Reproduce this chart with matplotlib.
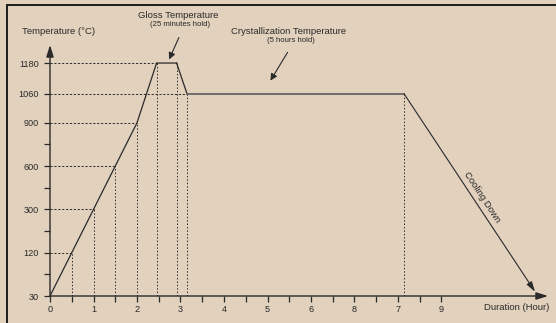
import numpy as np
import matplotlib
matplotlib.use('Agg')
import matplotlib.pyplot as plt
from matplotlib.patches import FancyArrowPatch

# 温度轴刻度（原图不是线性的，等距排列）
temp_levels = [30, 120, 300, 600, 900, 1060, 1180]
temp_pos = [0, 1, 2, 3, 4, 4.67, 5.38]
temp_minor = [75, 210, 450, 750]

# 时间轴刻度位置和标签（照原图原样）
time_ticks = [0, 1, 2, 3, 4, 5, 6, 7, 8, 9]
time_labels = ['0', '1', '2', '3', '4', '5', '6', '8', '7', '9']

# 烧成曲线
curve_t = [0, 0.5, 1, 1.5, 2, 2.45, 2.91, 3.15, 8.14]
curve_T = [30, 120, 300, 600, 900, 1180, 1180, 1060, 1060]
cool_end_t = 11.15
cool_end_T = 39

# 辅助虚线
hguide_T = [120, 300, 600, 900, 1060, 1180]
hguide_t = [0.5, 1, 1.5, 2, 3.15, 2.45]
vguide_t = [0.5, 1, 1.5, 2, 2.47, 2.91, 3.15, 8.14]
vguide_T = [120, 300, 600, 900, 1180, 1180, 1060, 1060]

bg = '#e1d1bd'
ink = '#2a2a2a'
plt.rcParams['font.family'] = ['Liberation Sans', 'DejaVu Sans']

# 温度 -> 位置 的分段线性映射
slope_lo = 1 / 90
slope_hi = (temp_pos[-1] - temp_pos[-2]) / (temp_levels[-1] - temp_levels[-2])
ext_T = [-1000] + temp_levels + [3000]
ext_p = [-1030 * slope_lo] + temp_pos + [temp_pos[-1] + 1820 * slope_hi]


def fwd(v):
    return np.interp(v, ext_T, ext_p)


def inv(p):
    return np.interp(p, ext_p, ext_T)


W, H = 556, 323
fig = plt.figure(figsize=(W / 100, H / 100), dpi=100, facecolor=bg)


def fx(x):
    return x / W


def fy(y):
    return 1 - y / H


ax = fig.add_axes([fx(50), fy(296), (548 - 50) / W, (296 - 45) / H])
ax.set_facecolor(bg)
ax.set_yscale('function', functions=(fwd, inv))
ax.set_xlim(0, 498 / 43.5)
ax.set_ylim(30, inv(251 / 43.3))
for s in ax.spines.values():
    s.set_visible(False)

# 坐标轴带箭头
arrow = dict(arrowstyle='-|>,head_length=0.7,head_width=0.22', color=ink, lw=1.0,
             shrinkA=0, shrinkB=0)
ax.annotate('', xy=(1, 0), xytext=(0, 0), xycoords='axes fraction', arrowprops=arrow)
ax.annotate('', xy=(0, 1), xytext=(0, 0), xycoords='axes fraction', arrowprops=arrow)

ax.set_xticks(time_ticks)
ax.set_xticklabels(time_labels)
ax.set_xticks(np.arange(0.5, 9, 1), minor=True)
ax.set_yticks(temp_levels)
ax.set_yticklabels([str(v) for v in temp_levels])
ax.set_yticks(temp_minor, minor=True)
ax.yaxis.set_minor_formatter(plt.NullFormatter())
ax.tick_params(axis='both', which='both', direction='out', length=4, width=0.9,
               color=ink, labelcolor=ink, labelsize=6.6)
ax.tick_params(axis='x', which='both', pad=2.5)
ax.tick_params(axis='y', which='both', pad=4)

# 虚线
for T, t in zip(hguide_T, hguide_t):
    ax.plot([0, t], [T, T], color=ink, lw=0.7, ls=(0, (2.2, 1.8)))
for t, T in zip(vguide_t, vguide_T):
    ax.plot([t, t], [30, T], color=ink, lw=0.7, ls=(0, (1.5, 2)))

# 曲线
ax.plot(curve_t[:7], curve_T[:7], color=ink, lw=0.9, solid_joinstyle='miter')
ax.plot(curve_t[6:8], curve_T[6:8], color=ink, lw=0.9)
ax.plot(curve_t[7:], curve_T[7:], color='#666666', lw=1.3)
ax.annotate('', xy=(cool_end_t, cool_end_T), xytext=(curve_t[-1], curve_T[-1]),
            arrowprops=dict(arrowstyle='-|>,head_length=0.6,head_width=0.18',
                            color=ink, lw=0.8, shrinkA=0, shrinkB=0))

# 文字
fs = 6.8
fig.text(fx(22), fy(31.5), 'Temperature (°C)', fontsize=fs, color=ink, ha='left', va='center')
fig.text(fx(517), fy(307), 'Duration (Hour)', fontsize=fs, color=ink, ha='center', va='center')
fig.text(fx(178), fy(16), 'Gloss Temperature', fontsize=fs, color=ink, ha='center', va='center')
fig.text(fx(180), fy(25), '(25 minutes hold)', fontsize=5.6, color=ink, ha='center', va='center')
fig.text(fx(289), fy(32), 'Crystallization Temperature', fontsize=fs, color=ink,
         ha='center', va='center')
fig.text(fx(291), fy(41), '(5 hours hold)', fontsize=5.6, color=ink, ha='center', va='center')
fig.text(fx(481.5), fy(197), 'Cooling Down', fontsize=fs, color=ink, ha='center', va='center',
         rotation=-56.6, rotation_mode='anchor')

for (x0, y0), (x1, y1) in [((180, 35), (168, 62)), ((289, 50), (269, 83))]:
    fig.patches.append(FancyArrowPatch((fx(x0), fy(y0)), (fx(x1), fy(y1)),
                                       transform=fig.transFigure,
                                       arrowstyle='-|>,head_length=4,head_width=2',
                                       color=ink, lw=0.8))

# 外框（左、上）
fig.add_artist(plt.Line2D([fx(7), fx(7)], [fy(5), 0], color='#1e1e1e', lw=1.4,
                          transform=fig.transFigure))
fig.add_artist(plt.Line2D([fx(7), 1], [fy(5), fy(5)], color='#1e1e1e', lw=1.4,
                          transform=fig.transFigure))

fig.savefig('out.png', dpi=100, facecolor=bg)
